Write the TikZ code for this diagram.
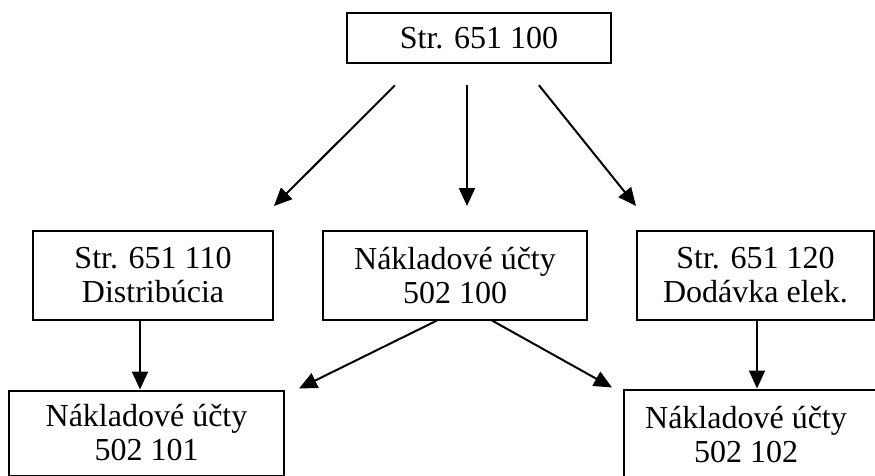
\documentclass[tikz,border=0pt]{standalone}
\usepackage{fontspec}
\setmainfont{Liberation Serif}
\usetikzlibrary{positioning,arrows.meta}

\begin{document}
\begin{tikzpicture}[->,>={Triangle[length=18pt,width=16pt]}, line width=2pt,
  acct/.style={draw, rectangle, align=center, inner sep=0pt, minimum height=88.5pt},
  every node/.style={font=\fontsize{32}{34}\selectfont}]

  \useasboundingbox (0,0) rectangle (875pt,-476pt);

  \node[acct, minimum width=264pt, minimum height=50.6pt] (s100) at (479pt,-38pt) {Str. 651 100};
  \node[acct, minimum width=264pt] (n100) [below=165.7pt of s100, xshift=-24pt] {Nákladové účty\\502 100};
  \node[acct, minimum width=240pt] (d110) [left=48pt of n100] {Str. 651 110\\Distribúcia};
  \node[acct, minimum width=237pt] (d120) [right=48pt of n100] {Str. 651 120\\Dodávka elek.};
  \node[acct, minimum width=275pt, minimum height=85pt] (n101) [below=69pt of d110, xshift=-6.5pt] {Nákladové účty\\502 101};
  \node[acct, minimum width=300pt, minimum height=110pt] (n102) [below=68pt of d120.south west, anchor=north west, xshift=-13pt]
    {\begin{tabular}{@{}c@{\hspace{56pt}}}Nákladové účty\\502 102\\[12pt]\end{tabular}};

  \path
    ([xshift=-84pt,yshift=-21pt]s100.south) edge ([yshift=24pt]d110.north east)
    ([xshift=-12pt,yshift=-21pt]s100.south) edge ([xshift=12pt,yshift=24pt]n100.north)
    ([xshift=60pt,yshift=-21pt]s100.south) edge ([yshift=24pt]d120.north west)
    ([xshift=-13pt]d110.south) edge ([xshift=-13pt]d110.south |- n101.north)
    ([xshift=-18pt]n100.south) edge ([xshift=14pt,yshift=1pt]n101.north east)
    ([xshift=37pt]n100.south) edge ([xshift=-11pt,yshift=1pt]n102.north west)
    ([xshift=1.5pt]d120.south) edge ([xshift=1.5pt]d120.south |- n102.north)
  ;
\end{tikzpicture}
\end{document}
